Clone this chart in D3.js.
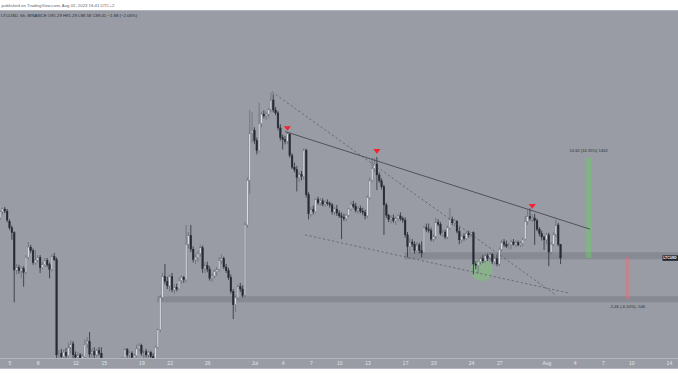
<!DOCTYPE html>
<html><head><meta charset="utf-8">
<script src="https://cdn.jsdelivr.net/npm/d3@7"></script>
<style>
html,body{margin:0;padding:0;background:#fff;overflow:hidden;}
svg{display:block;}
text{font-family:"Liberation Sans",Arial,sans-serif;}
</style></head><body>
<svg id="c" width="678" height="381"></svg>
<script>
// ---- data (6h candles starting 2023-06-04 00:00 UTC) ----
const startTime = "2023-06-04T00:00:00Z";
const stepHours = 6;
const opens = [
95.0,95.9,96.3,96.0,94.5,93.6,92.9,87.8,88.1,87.7,
88.0,87.5,89.5,90.9,90.4,88.8,89.1,89.5,88.1,88.5,
89.1,88.5,87.9,89.6,89.2,77.2,77.4,77.0,77.5,77.1,
78.0,78.5,77.2,76.9,77.2,76.7,77.0,78.5,78.8,77.3,
77.6,77.2,77.7,77.4,75.6,74.5,74.9,74.4,73.2,73.8,
74.9,75.7,76.2,76.9,77.8,77.2,77.4,76.9,77.1,77.9,
78.3,77.4,77.6,77.2,77.5,77.0,76.8,78.1,80.2,84.2,
86.9,86.3,85.7,86.9,85.2,85.5,85.3,86.4,86.8,86.5,
91.3,92.5,90.6,89.2,89.5,90.0,90.8,88.0,88.4,87.9,
86.7,87.0,87.6,87.9,89.1,89.3,88.2,87.7,86.8,85.0,
83.3,84.2,85.6,85.3,84.5,94.0,100.6,108.0,108.5,106.8,
105.2,109.6,111.2,110.9,111.2,111.9,113.6,111.9,111.4,108.9,
107.3,107.0,106.7,107.9,104.4,102.6,102.2,101.0,101.5,101.2,
105.3,98.4,95.6,96.2,95.9,97.7,97.2,97.5,97.0,97.3,
97.1,96.9,95.9,96.3,95.7,95.3,95.1,94.9,95.4,96.3,
97.0,96.7,96.1,96.4,96.0,95.8,95.3,98.0,100.6,102.4,
103.1,101.4,100.5,99.6,96.9,95.4,94.8,95.0,94.6,94.9,
95.3,94.9,94.7,92.6,91.0,91.6,91.3,90.4,91.2,90.4,
90.1,93.6,93.4,93.2,92.0,92.3,94.4,94.1,92.8,93.0,
92.3,93.6,94.8,94.3,94.5,93.1,91.9,92.4,92.1,92.8,
92.6,92.9,88.6,88.4,88.9,89.3,89.0,89.7,89.4,89.9,
88.9,89.3,88.6,90.6,91.6,91.3,91.0,91.2,91.6,91.3,
91.5,91.2,91.4,92.0,94.5,95.2,94.9,95.0,94.6,93.4,
92.8,92.3,91.9,92.6,90.2,91.3,92.6,94.0,91.29];
const highs = [
96.1,96.5,96.6,96.3,94.8,93.9,93.1,88.6,88.5,88.3,
88.3,89.8,91.6,91.2,90.7,90.5,89.8,89.8,88.9,89.4,
89.4,88.8,89.9,90.1,89.5,77.8,77.9,77.8,78.0,78.6,
78.9,78.8,77.6,77.5,77.4,77.3,79.0,79.3,79.9,78.0,
78.1,77.9,78.1,78.1,76.2,75.3,75.6,74.9,74.1,75.2,
76.0,76.5,77.0,78.0,78.0,77.6,77.6,77.3,78.4,78.6,
78.5,77.8,77.9,77.7,77.7,77.4,78.3,80.3,84.5,87.4,
88.6,86.9,87.2,87.4,85.9,86.0,86.8,87.1,87.0,94.0,
93.0,94.0,91.0,90.0,90.4,91.2,91.1,88.8,88.9,88.3,
87.4,87.9,88.2,89.5,89.9,89.6,88.6,88.1,87.2,85.3,
84.5,85.9,86.1,85.8,94.4,101.0,111.9,111.5,109.0,107.3,
113.1,111.6,111.8,111.6,112.2,114.9,114.6,112.4,111.7,109.5,
107.8,107.6,108.2,108.0,104.8,103.3,102.8,101.9,102.0,105.6,
105.5,98.8,96.6,96.8,97.9,98.1,97.9,97.9,97.6,97.7,
97.4,97.2,96.6,96.9,96.1,95.8,95.6,95.6,96.4,97.4,
97.5,97.2,96.7,96.8,96.5,96.2,98.3,101.0,104.1,104.0,
104.2,101.8,100.9,99.9,97.2,95.6,95.4,95.5,95.2,95.5,
95.8,95.2,95.1,93.0,92.2,92.0,91.7,91.6,91.5,91.7,
93.9,94.2,94.2,93.6,92.7,95.0,94.8,94.4,93.4,93.3,
93.9,96.4,95.2,94.9,94.7,93.7,92.6,92.8,93.1,93.2,
93.0,93.1,89.0,89.2,89.6,89.8,90.0,90.0,90.2,90.1,
89.6,89.9,90.8,91.9,92.0,91.8,91.5,91.9,92.0,91.8,
91.8,91.7,92.2,95.3,96.2,96.4,95.5,95.6,94.9,93.7,
93.2,92.5,92.9,92.9,91.6,93.0,94.8,94.3,91.29];
const lows = [
94.7,95.5,95.7,94.4,93.3,91.9,83.6,87.2,87.3,86.7,
85.6,87.2,89.2,90.1,88.5,88.5,88.8,87.4,87.9,88.2,
88.2,86.7,87.6,89.0,73.8,76.2,76.5,76.4,76.6,76.9,
77.4,76.7,76.3,76.0,76.2,76.0,76.8,78.0,76.9,76.6,
76.8,76.9,77.1,75.2,74.1,73.8,74.2,72.6,72.8,73.5,
74.5,75.1,75.8,76.6,76.9,76.6,76.5,76.3,76.9,77.6,
77.1,76.8,76.9,76.8,76.6,76.3,76.5,77.9,79.9,83.9,
85.9,85.3,85.0,84.9,84.7,85.0,85.2,86.0,86.1,86.2,
90.7,90.2,88.8,88.6,88.9,89.6,87.4,87.4,87.5,86.4,
86.2,86.7,87.0,87.6,88.6,87.9,87.4,86.5,84.7,81.5,
82.4,83.9,84.9,84.2,84.2,93.6,98.5,106.5,106.3,104.6,
104.9,109.0,110.5,110.2,110.6,111.5,111.5,111.0,108.5,106.8,
105.4,106.2,106.3,104.1,102.3,101.8,98.9,100.3,100.6,100.7,
98.0,94.8,95.2,95.5,95.7,96.9,96.8,96.7,96.6,96.8,
96.5,95.5,95.4,95.3,95.0,92.0,94.6,94.5,95.1,96.0,
96.4,95.8,95.6,95.7,95.4,94.8,95.0,97.7,100.3,101.9,
99.1,100.2,99.2,92.6,95.0,94.4,94.2,94.3,94.0,94.5,
94.6,94.3,92.2,89.5,90.2,90.9,90.0,90.2,90.0,89.5,
89.9,93.0,92.9,91.7,91.6,92.0,93.8,92.5,92.3,92.0,
92.0,93.3,94.0,93.8,92.8,91.3,91.5,91.8,91.9,92.2,
92.3,87.2,87.9,87.3,88.5,88.7,88.8,89.0,89.1,88.6,
88.5,88.3,88.3,90.3,90.9,90.8,90.6,90.6,91.1,90.9,
91.0,90.9,91.0,91.8,94.0,94.6,94.4,91.2,93.1,92.4,
91.8,90.5,91.3,88.3,89.9,91.0,92.3,91.0,88.58];
const closes = [
95.9,96.3,96.0,94.7,93.6,92.9,87.8,88.1,87.7,88.0,
87.5,89.5,90.9,90.4,88.8,89.1,89.5,88.1,88.5,89.1,
88.5,87.9,89.6,89.2,77.2,77.4,77.0,77.5,77.1,78.0,
78.5,77.2,76.9,77.2,76.7,77.0,78.5,78.8,77.3,77.6,
77.2,77.7,77.4,75.6,74.5,74.9,74.4,73.2,73.8,74.9,
75.7,76.2,76.9,77.8,77.2,77.4,76.9,77.1,77.9,78.3,
77.4,77.6,77.2,77.5,77.0,76.8,78.1,80.2,84.2,86.9,
86.3,85.7,86.9,85.2,85.5,85.3,86.4,86.8,86.5,91.3,
92.5,90.6,89.2,89.5,90.0,90.8,88.0,88.4,87.9,86.7,
87.0,87.6,87.9,89.1,89.3,88.2,87.7,86.8,85.0,83.3,
84.2,85.6,85.3,84.5,94.0,100.6,108.0,108.5,106.8,105.2,
109.6,111.2,110.9,111.2,111.9,113.6,111.9,111.4,108.9,107.3,
107.0,106.7,107.9,104.4,102.6,102.2,101.0,101.5,101.2,105.3,
98.4,95.6,96.2,95.9,97.7,97.2,97.5,97.0,97.3,97.1,
96.9,95.9,96.3,95.7,95.3,95.1,94.9,95.4,96.3,97.0,
96.7,96.1,96.4,96.0,95.8,95.3,98.0,100.6,102.4,103.1,
101.4,100.5,99.6,96.9,95.4,94.8,95.0,94.6,94.9,95.3,
94.9,94.7,92.6,91.0,91.6,91.3,90.4,91.2,90.4,90.1,
93.6,93.4,93.2,92.0,92.3,94.4,94.1,92.8,93.0,92.3,
93.6,94.8,94.3,94.5,93.1,91.9,92.4,92.1,92.8,92.6,
92.9,88.6,88.4,88.9,89.3,89.0,89.7,89.4,89.9,88.9,
89.3,88.6,90.6,91.6,91.3,91.0,91.2,91.6,91.3,91.5,
91.2,91.4,92.0,94.5,95.2,94.9,95.0,94.6,93.4,92.8,
92.3,91.9,92.6,90.2,91.3,92.6,94.0,91.29,89.41];

const tickDates = ["2023-06-05","2023-06-08","2023-06-12","2023-06-15","2023-06-19","2023-06-22","2023-06-26",
  "2023-07-01","2023-07-04","2023-07-07","2023-07-10","2023-07-13","2023-07-17","2023-07-20","2023-07-24","2023-07-27",
  "2023-08-01","2023-08-04","2023-08-07","2023-08-10","2023-08-14"];
const tickLabels = ["5","8","12","15","19","22","26","Jul","4","7","10","13","17","20","24","27","Aug","4","7","10","14"];

// drawings (time, price)
const resistanceLine = [["2023-07-04T06:00Z",108.3],["2023-08-05T15:00Z",93.4]];
const wedgeUpper = [["2023-07-02T21:00Z",115.0],["2023-08-02T00:30Z",84.5]];
const wedgeLower = [["2023-07-06T09:00Z",92.6],["2023-08-03T07:00Z",84.8]];
const zoneUpper = ["2023-07-16T22:00Z", 90.19, 89.23];
const zoneLower = ["2023-06-20T16:00Z", 84.37, 83.60];
const topMarkers = [[122,108.8],[160,105.1],[226,96.7]];
const supportCircle = ["2023-07-25T03:00Z", 87.8];
const upTarget = ["2023-08-05T04:00Z","2023-08-05T18:45Z", 89.41, 104.03, "14.62 (16.35%) 1462"];
const downTarget = ["2023-08-09T09:30Z","2023-08-09T18:30Z", 89.50, 84.04, "-5.46 (-6.10%) -546"];
const headerTitle = "LTCUSD, 6h, BINANCE";
const headerValues = "O91.29  H91.29  L88.58  C89.41  −1.88 (−2.06%)";
const publishedText = "published on TradingView.com, Aug 02, 2023 16:41 UTC+2";

// ---- rendering ----
const W = 678, H = 381, plotTop = 10, plotBottom = 358;
const svg = d3.select("#c");
const bg = "#999ca5";
svg.append("rect").attr("width",W).attr("height",H).attr("fill","#ffffff");
svg.append("rect").attr("x",0).attr("y",plotTop).attr("width",W).attr("height",plotBottom-plotTop+10).attr("fill",bg);

const t0 = new Date(startTime).getTime();
const times = closes.map((_, i) => new Date(t0 + i * stepHours * 3600e3));
const x = d3.scaleUtc()
  .domain([new Date("2023-06-04T00:00:00Z"), new Date("2023-08-15T00:00:00Z")])
  .range([0.08, 0.08 + 72 * 9.42]);
const y = d3.scaleLog().domain([76.95, 130.2]).range([357, 10]);
const T = s => new Date(s);

svg.append("defs").append("clipPath").attr("id","plotclip")
  .append("rect").attr("x",0).attr("y",plotTop).attr("width",W).attr("height",plotBottom-plotTop);
const g = svg.append("g").attr("clip-path","url(#plotclip)");

// zones
[zoneLower, zoneUpper].forEach(z => {
  g.append("rect").attr("x", x(T(z[0]))).attr("y", y(z[1]))
   .attr("width", W - x(T(z[0]))).attr("height", y(z[2]) - y(z[1]))
   .attr("fill", "#868891").attr("opacity", 0.95);
});

// target bars
g.append("rect").attr("x", x(T(upTarget[0]))).attr("y", y(upTarget[3]))
  .attr("width", x(T(upTarget[1])) - x(T(upTarget[0]))).attr("height", y(upTarget[2]) - y(upTarget[3]))
  .attr("fill", "rgba(110,200,110,0.5)");
g.append("rect").attr("x", x(T(downTarget[0]))).attr("y", y(downTarget[2]))
  .attr("width", x(T(downTarget[1])) - x(T(downTarget[0]))).attr("height", y(downTarget[3]) - y(downTarget[2]))
  .attr("fill", "rgba(235,110,120,0.5)");

// support circle
g.append("circle").attr("cx", x(T(supportCircle[0]))).attr("cy", y(supportCircle[1])).attr("r", 11)
  .attr("fill", "rgba(120,205,110,0.45)");

// candles
const bw = 1.7;
const cg = g.append("g");
times.forEach((t, i) => {
  const o = opens[i], c = closes[i], hi = highs[i], lo = lows[i];
  if (o === undefined || c === undefined) return;
  const up = c >= o;
  const cx = x(t);
  cg.append("line").attr("x1", cx).attr("x2", cx).attr("y1", y(hi)).attr("y2", y(lo))
    .attr("stroke", up ? "#6a6d77" : "#2a2e39").attr("stroke-width", 0.8);
  const yt = y(Math.max(o, c)), yb = y(Math.min(o, c));
  cg.append("rect").attr("x", cx - bw / 2).attr("y", yt).attr("width", bw)
    .attr("height", Math.max(0.7, yb - yt))
    .attr("fill", up ? "#d9dbe0" : "#262a33")
    .attr("stroke", up ? "#6a6d77" : "#262a33").attr("stroke-width", 0.35);
});

// trend lines
const lineGen = d3.line().x(d => x(T(d[0]))).y(d => y(d[1]));
g.append("path").attr("d", lineGen(resistanceLine)).attr("fill","none")
  .attr("stroke","#474a53").attr("stroke-width",0.9);
[wedgeUpper, wedgeLower].forEach(l => {
  g.append("path").attr("d", lineGen(l)).attr("fill","none")
   .attr("stroke","#55585f").attr("stroke-width",0.75).attr("stroke-dasharray","2.2,2.4");
});

// red markers
topMarkers.forEach(m => {
  const cx = x(times[m[0]]), cy = y(m[1]);
  g.append("path").attr("d", `M${cx-3.6},${cy-2.2}L${cx+3.6},${cy-2.2}L${cx},${cy+2.4}Z`).attr("fill","#f5222d");
});

// target labels
g.append("text").attr("x", (x(T(upTarget[0])) + x(T(upTarget[1]))) / 2).attr("y", y(upTarget[3]) - 6.5)
  .attr("text-anchor","middle").attr("font-size",4.1).attr("fill","#2a2e39").text(upTarget[4]);
g.append("text").attr("x", (x(T(downTarget[0])) + x(T(downTarget[1]))) / 2).attr("y", y(downTarget[3]) + 9.5)
  .attr("text-anchor","middle").attr("font-size",4.1).attr("fill","#2a2e39").text(downTarget[4]);

// price label at right
const lastY = y(closes[closes.length - 1]);
svg.append("rect").attr("x", 662.5).attr("y", lastY - 2.6).attr("width", 16).attr("height", 5.4).attr("fill", "#1e222d");
svg.append("text").attr("x", 663.3).attr("y", lastY + 1.3).attr("font-size", 3.4).attr("fill", "#ffffff")
  .attr("font-weight","bold").text("LTCUSD");

// x axis
svg.append("line").attr("x1",0).attr("x2",W).attr("y1",plotBottom+0.5).attr("y2",plotBottom+0.5)
  .attr("stroke","#b4b7bf").attr("stroke-width",1);
svg.append("line").attr("x1",0).attr("x2",W).attr("y1",368.5).attr("y2",368.5)
  .attr("stroke","#b4b7bf").attr("stroke-width",1);
svg.append("rect").attr("x",0).attr("y",369).attr("width",W).attr("height",H-369).attr("fill","#ffffff");
const axis = d3.axisBottom(x).tickValues(tickDates.map(d => new Date(d + "T00:00:00Z")))
  .tickFormat((d, i) => tickLabels[i]).tickSize(0).tickPadding(3.4);
const ag = svg.append("g").attr("transform", `translate(0,${plotBottom})`).call(axis);
ag.select(".domain").remove();
ag.selectAll("text").attr("font-size", 5).attr("fill", "#e2e4e9").attr("font-family", '"Liberation Sans",Arial,sans-serif');

// header
svg.append("text").attr("x", 1.5).attr("y", 6.6).attr("font-size", 4.3).attr("fill", "#5d606b").text(publishedText);
svg.append("line").attr("x1",0).attr("x2",W).attr("y1",10.5).attr("y2",10.5).attr("stroke","#b4b7bf").attr("stroke-width",0.8);
svg.append("text").attr("x", 1).attr("y", 16.8).attr("font-size", 4.3).attr("fill", "#2a2e39")
  .text(headerTitle + "  " + headerValues);
</script>
</body></html>
